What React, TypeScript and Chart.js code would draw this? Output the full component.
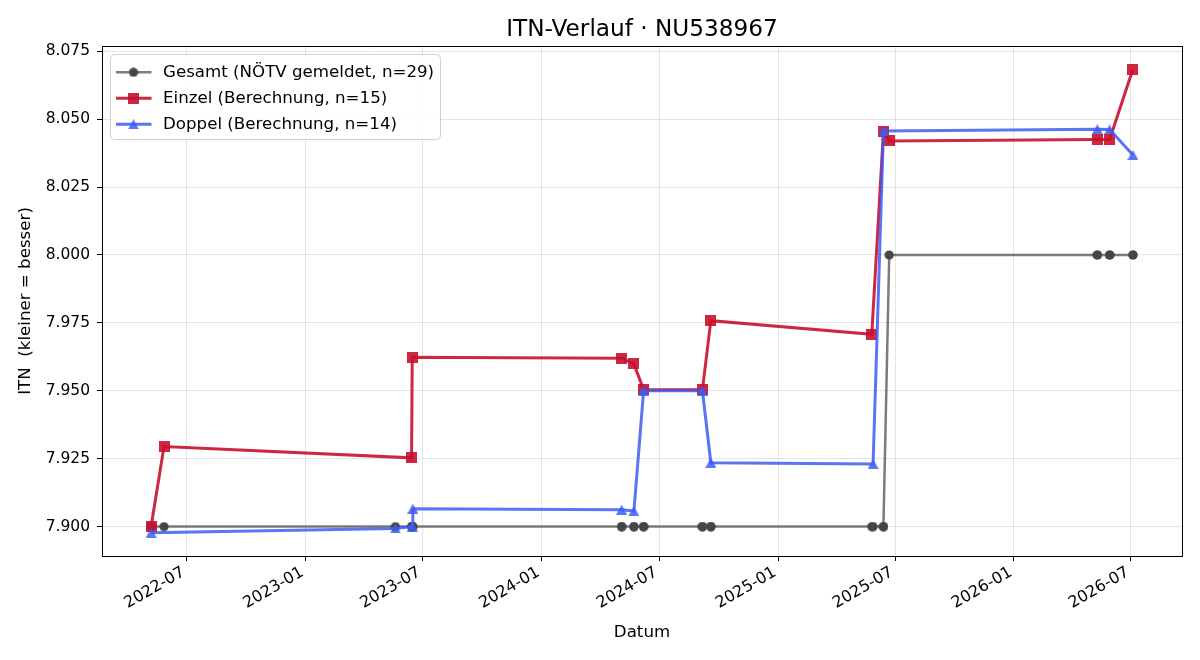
import React, { useEffect, useRef } from 'react';
import { Chart, registerables } from 'chart.js';

Chart.register(...registerables);

const TITLE = 'ITN-Verlauf · NU538967';
const X_LABEL = 'Datum';
const Y_LABEL = 'ITN  (kleiner = besser)';

const GESAMT_LABEL = 'Gesamt (NÖTV gemeldet, n=29)';
const GESAMT_DATES = [
  '2022-05-07', '2022-05-07', '2022-05-27', '2023-05-20', '2023-06-14', '2023-06-15', '2023-06-15', '2023-06-16',
  '2024-05-04', '2024-05-04', '2024-05-23', '2024-05-23', '2024-06-07', '2024-06-07', '2024-09-06', '2024-09-06',
  '2024-09-19', '2024-09-19', '2025-05-26', '2025-05-28', '2025-06-13', '2025-06-13', '2025-06-22',
  '2026-05-10', '2026-05-10', '2026-05-29', '2026-05-29', '2026-07-04', '2026-07-04',
];
const GESAMT_VALUES = [
  7.9, 7.9, 7.9, 7.9, 7.9, 7.9, 7.9, 7.9,
  7.9, 7.9, 7.9, 7.9, 7.9, 7.9, 7.9, 7.9,
  7.9, 7.9, 7.9, 7.9, 7.9, 7.9, 8.0,
  8.0, 8.0, 8.0, 8.0, 8.0, 8.0,
];

const EINZEL_LABEL = 'Einzel (Berechnung, n=15)';
const EINZEL_DATES = [
  '2022-05-07', '2022-05-27', '2023-06-14', '2023-06-15', '2024-05-04', '2024-05-23', '2024-06-07', '2024-09-06',
  '2024-09-19', '2025-05-26', '2025-06-13', '2025-06-22', '2026-05-10', '2026-05-29', '2026-07-04',
];
const EINZEL_VALUES = [
  7.9, 7.9295, 7.9253, 7.9623, 7.962, 7.9599, 7.9504, 7.9504,
  7.9758, 7.9708, 8.0453, 8.042, 8.0425, 8.0425, 8.0684,
];

const DOPPEL_LABEL = 'Doppel (Berechnung, n=14)';
const DOPPEL_DATES = [
  '2022-05-07', '2023-05-20', '2023-06-15', '2023-06-16', '2024-05-04', '2024-05-23', '2024-06-07', '2024-09-06',
  '2024-09-19', '2025-05-28', '2025-06-13', '2026-05-10', '2026-05-29', '2026-07-04',
];
const DOPPEL_VALUES = [
  7.8977, 7.8993, 7.9, 7.9066, 7.9062, 7.9057, 7.95, 7.95,
  7.9235, 7.923, 8.0456, 8.0463, 8.0462, 8.0368,
];

const X_TICKS = ['2022-07', '2023-01', '2023-07', '2024-01', '2024-07', '2025-01', '2025-07', '2026-01', '2026-07'];
const Y_TICKS = [7.9, 7.925, 7.95, 7.975, 8.0, 8.025, 8.05, 8.075];

const FONT = '"DejaVu Sans", "Liberation Sans", sans-serif';
const GREY_LINE = 'rgba(68,68,68,0.7)';
const GREY_MARK = '#454545';
const RED = 'rgba(200,16,46,0.9)';
const BLUE = 'rgba(61,92,241,0.85)';

function toPoints(dates: string[], values: number[]) {
  return dates.map((d, i) => ({ x: Date.parse(d), y: values[i] }));
}

function makeMarker(w: number, h: number, draw: (g: CanvasRenderingContext2D) => void) {
  const c = document.createElement('canvas');
  c.width = w;
  c.height = h;
  const g = c.getContext('2d')!;
  draw(g);
  return c;
}

export default function App() {
  const ref = useRef<HTMLCanvasElement>(null);

  useEffect(() => {
    const canvas = ref.current!;
    Chart.defaults.font.family = FONT;

    const circle = makeMarker(10, 10, (g) => {
      g.fillStyle = GREY_MARK;
      g.beginPath();
      g.arc(5, 5, 4.6, 0, Math.PI * 2);
      g.fill();
    });
    const square = makeMarker(11, 11, (g) => {
      g.fillStyle = RED;
      g.fillRect(0, 0, 11, 11);
    });
    const triangle = makeMarker(11, 10, (g) => {
      g.fillStyle = BLUE;
      g.beginPath();
      g.moveTo(5.5, 0);
      g.lineTo(11, 10);
      g.lineTo(0, 10);
      g.closePath();
      g.fill();
    });

    const allX = [...GESAMT_DATES, ...EINZEL_DATES, ...DOPPEL_DATES].map((d) => Date.parse(d));
    const allY = [...GESAMT_VALUES, ...EINZEL_VALUES, ...DOPPEL_VALUES];
    const x0 = Math.min(...allX);
    const x1 = Math.max(...allX);
    const y0 = Math.min(...allY);
    const y1 = Math.max(...allY);
    const xPad = (x1 - x0) * 0.05;
    const yPad = (y1 - y0) * 0.05;

    const legendItems = [
      { label: GESAMT_LABEL, color: GREY_LINE, width: 2.5, marker: circle },
      { label: EINZEL_LABEL, color: RED, width: 3, marker: square },
      { label: DOPPEL_LABEL, color: BLUE, width: 3, marker: triangle },
    ];

    const decor = {
      id: 'decor',
      afterDraw(chart: any) {
        const ctx = chart.ctx as CanvasRenderingContext2D;
        const a = chart.chartArea;
        ctx.save();
        ctx.strokeStyle = '#000';
        ctx.lineWidth = 1;
        ctx.strokeRect(Math.round(a.left) + 0.5, Math.round(a.top) + 0.5, Math.round(a.right - a.left), Math.round(a.bottom - a.top));
        ctx.fillStyle = '#000';
        ctx.font = `23.2px ${FONT}`;
        ctx.textAlign = 'center';
        ctx.textBaseline = 'alphabetic';
        ctx.fillText(TITLE, (a.left + a.right) / 2, 36);
        const lx = 110.5, ly = 54.5, lw = 330, lh = 85, r = 4;
        ctx.beginPath();
        ctx.moveTo(lx + r, ly);
        ctx.lineTo(lx + lw - r, ly);
        ctx.quadraticCurveTo(lx + lw, ly, lx + lw, ly + r);
        ctx.lineTo(lx + lw, ly + lh - r);
        ctx.quadraticCurveTo(lx + lw, ly + lh, lx + lw - r, ly + lh);
        ctx.lineTo(lx + r, ly + lh);
        ctx.quadraticCurveTo(lx, ly + lh, lx, ly + lh - r);
        ctx.lineTo(lx, ly + r);
        ctx.quadraticCurveTo(lx, ly, lx + r, ly);
        ctx.closePath();
        ctx.fillStyle = 'rgba(255,255,255,0.8)';
        ctx.fill();
        ctx.strokeStyle = '#d0d0d0';
        ctx.stroke();
        const rows = [72.3, 98.3, 124.3];
        legendItems.forEach((it, i) => {
          const y = rows[i];
          ctx.strokeStyle = it.color;
          ctx.lineWidth = it.width;
          ctx.beginPath();
          ctx.moveTo(116, y);
          ctx.lineTo(151.5, y);
          ctx.stroke();
          const m = it.marker;
          ctx.drawImage(m, 133.5 - m.width / 2, y - m.height / 2);
          ctx.fillStyle = '#000';
          ctx.font = `16.67px ${FONT}`;
          ctx.textAlign = 'left';
          ctx.textBaseline = 'middle';
          ctx.fillText(it.label, 163, y);
        });
        ctx.restore();
      },
    };

    const chart = new Chart(canvas, {
      type: 'line',
      data: {
        datasets: [
          {
            label: GESAMT_LABEL,
            data: toPoints(GESAMT_DATES, GESAMT_VALUES),
            borderColor: GREY_LINE,
            backgroundColor: GREY_MARK,
            borderWidth: 2.5,
            pointStyle: circle as any,
            pointRadius: 5,
            tension: 0,
            fill: false,
            order: 3,
          },
          {
            label: EINZEL_LABEL,
            data: toPoints(EINZEL_DATES, EINZEL_VALUES),
            borderColor: RED,
            backgroundColor: RED,
            borderWidth: 3,
            pointStyle: square as any,
            pointRadius: 6,
            tension: 0,
            fill: false,
            order: 2,
          },
          {
            label: DOPPEL_LABEL,
            data: toPoints(DOPPEL_DATES, DOPPEL_VALUES),
            borderColor: BLUE,
            backgroundColor: BLUE,
            borderWidth: 3,
            pointStyle: triangle as any,
            pointRadius: 6,
            tension: 0,
            fill: false,
            order: 1,
          },
        ],
      },
      options: {
        responsive: false,
        animation: false,
        layout: { padding: { top: 46, right: 18, bottom: 0, left: 0 } },
        plugins: {
          legend: { display: false },
          tooltip: { enabled: false },
          title: { display: false },
        },
        scales: {
          x: {
            type: 'linear',
            min: x0 - xPad,
            max: x1 + xPad,
            afterBuildTicks: (s: any) => {
              s.ticks = X_TICKS.map((t) => ({ value: Date.parse(t + '-01') }));
            },
            afterFit: (s: any) => {
              s.height = 104;
            },
            ticks: {
              autoSkip: false,
              minRotation: 30,
              maxRotation: 30,
              color: '#000',
              font: { size: 16 },
              padding: 2,
              labelOffset: -3,
              callback: (_v: any, i: number) => X_TICKS[i],
            },
            grid: { color: 'rgba(0,0,0,0.1)', tickColor: '#000', tickLength: 5, lineWidth: 1 },
            border: { display: true, color: '#000', width: 1 },
            title: { display: true, text: X_LABEL, color: '#000', font: { size: 16.67 }, padding: { top: 0, bottom: 17 } },
          },
          y: {
            type: 'linear',
            min: y0 - yPad,
            max: y1 + yPad,
            afterBuildTicks: (s: any) => {
              s.ticks = Y_TICKS.map((v) => ({ value: v }));
            },
            afterFit: (s: any) => {
              s.width = 102;
            },
            ticks: {
              color: '#000',
              font: { size: 15.5 },
              padding: 7,
              callback: (v: any) => Number(v).toFixed(3),
            },
            grid: { color: 'rgba(0,0,0,0.1)', tickColor: '#000', tickLength: 5, lineWidth: 1 },
            border: { display: true, color: '#000', width: 1 },
            title: { display: true, text: Y_LABEL, color: '#000', font: { size: 16.67 }, padding: { top: 16, bottom: 0 } },
          },
        },
      },
      plugins: [decor],
    } as any);

    return () => chart.destroy();
  }, []);

  return (
    <div style={{ position: 'absolute', left: 0, top: 0, width: 1200, height: 660, background: '#fff' }}>
      <canvas ref={ref} width={1200} height={660} />
    </div>
  );
}
